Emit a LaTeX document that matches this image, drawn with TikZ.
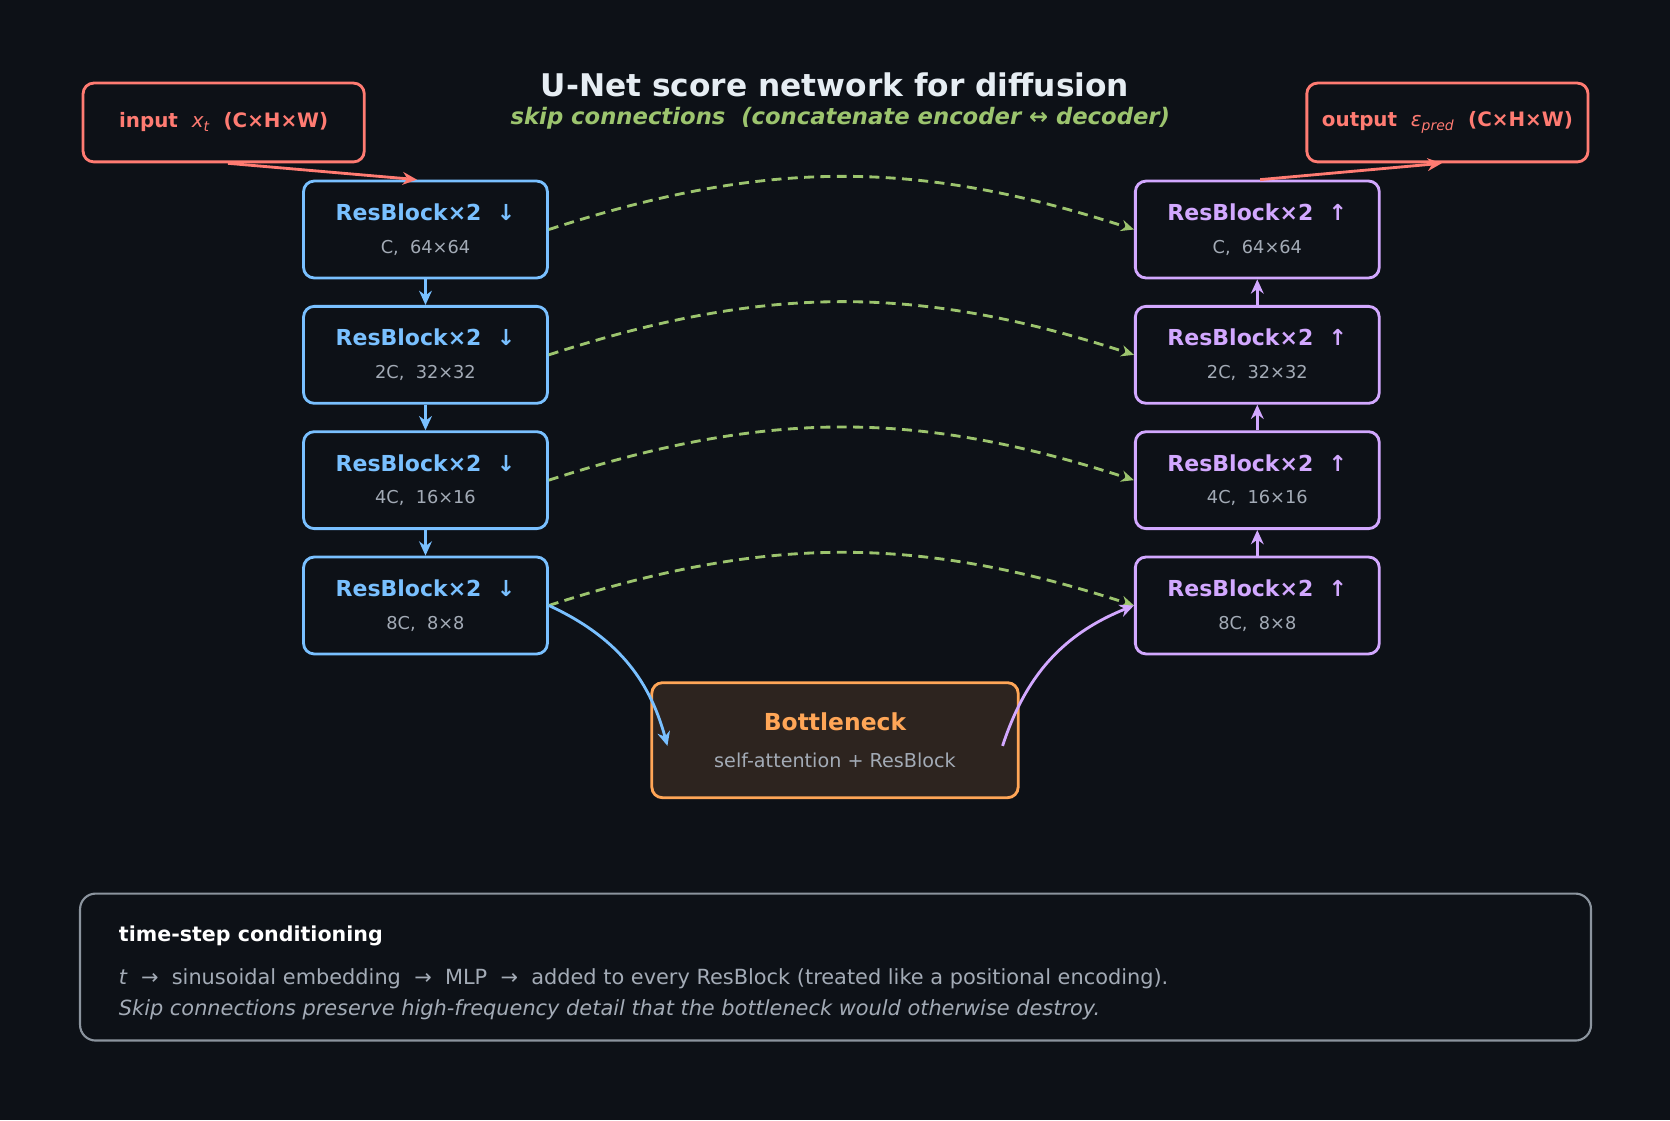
\documentclass[tikz,border=0pt]{standalone}
\usepackage{fontspec}
\setmainfont{DejaVu Sans}
\usetikzlibrary{positioning, arrows.meta}
\definecolor{bgc}{HTML}{0D1117}
\definecolor{encc}{HTML}{79C0FF}
\definecolor{decc}{HTML}{D2A8FF}
\definecolor{skipc}{HTML}{9CC46E}
\definecolor{ioc}{HTML}{FF7B72}
\definecolor{botc}{HTML}{FFA657}
\definecolor{botfill}{HTML}{2D241F}
\definecolor{subc}{HTML}{A3ABB6}
\definecolor{titc}{HTML}{E6EDF3}
\definecolor{framec}{HTML}{8B949E}
\tikzset{
	blk/.style={draw, line width=2pt, rounded corners=7.5pt, minimum width=171.75pt, minimum height=68.25pt, fill=bgc},
	enc/.style={blk, draw=encc},
	dec/.style={blk, draw=decc},
	io/.style={draw=ioc, line width=2pt, rounded corners=7.5pt, minimum width=198pt, minimum height=55.5pt, text=ioc, font=\bfseries\fontsize{14}{16}\selectfont},
	flow/.style={line width=2pt, -{Stealth[length=10pt,width=9pt]}},
	skip/.style={skipc, line width=2pt, dash pattern=on 7pt off 4.5pt, -{Stealth[length=9pt,width=8pt]}, bend left=18},
}
\newcommand{\blktext}[3]{\textcolor{#1}{\bfseries\fontsize{15.5}{18}\selectfont ResBlock×2\ \ #2}\\[11pt]\textcolor{subc}{\fontsize{12.5}{14}\selectfont #3}}
\begin{document}
\begin{tikzpicture}[x=0.75pt, y=-0.75pt]
	\fill[bgc] (0,0) rectangle (1568,1052);
	\useasboundingbox (0,0) rectangle (1568,1052);

	% title
	\node[text=titc, font=\bfseries\fontsize{22}{26}\selectfont] (title) at (784,80) {U-Net score network for diffusion};
	\node[text=skipc, font=\bfseries\itshape\fontsize{16}{19}\selectfont] (subtitle) at (789,111) {skip connections\ \ (concatenate encoder ↔ decoder)};

	% input / output
	\node[io] (input) at (210,115) {input\ \ \textmd{\textit{x\textsubscript{t}}}\ \ (C×H×W)};
	\node[io] (output) at (1359,115) {output\ \ \textmd{\textit{ε\textsubscript{pred}}}\ \ (C×H×W)};

	% encoder
	\node[enc, align=center] (enc1) at (399.5,215.5) {\blktext{encc}{↓}{C,\ \ 64×64}};
	\node[enc, align=center, below=18pt of enc1] (enc2) {\blktext{encc}{↓}{2C,\ \ 32×32}};
	\node[enc, align=center, below=18pt of enc2] (enc3) {\blktext{encc}{↓}{4C,\ \ 16×16}};
	\node[enc, align=center, below=18pt of enc3] (enc4) {\blktext{encc}{↓}{8C,\ \ 8×8}};

	% decoder
	\node[dec, align=center] (dec1) at (1180.5,215.5) {\blktext{decc}{↑}{C,\ \ 64×64}};
	\node[dec, align=center, below=18pt of dec1] (dec2) {\blktext{decc}{↑}{2C,\ \ 32×32}};
	\node[dec, align=center, below=18pt of dec2] (dec3) {\blktext{decc}{↑}{4C,\ \ 16×16}};
	\node[dec, align=center, below=18pt of dec3] (dec4) {\blktext{decc}{↑}{8C,\ \ 8×8}};

	% bottleneck
	\node[draw=botc, fill=botfill, line width=2pt, rounded corners=7.5pt, minimum width=258pt, minimum height=81pt, align=center] (bottle) at (784,695)
		{\textcolor{botc}{\bfseries\fontsize{16.5}{19}\selectfont Bottleneck}\\[14pt]\textcolor{subc}{\fontsize{13.5}{16}\selectfont self-attention + ResBlock}};

	% connectors
	\draw[flow, ioc] ([xshift=3pt]input.south) -- ([xshift=-6pt]enc1.north);
	\draw[flow, ioc] ([xshift=2pt]dec1.north) -- ([xshift=-4pt]output.south);
	\foreach \a/\b in {enc1/enc2, enc2/enc3, enc3/enc4}
		\draw[flow, encc] (\a.south) -- (\b.north);
	\foreach \a/\b in {dec4/dec3, dec3/dec2, dec2/dec1}
		\draw[flow, decc] (\a.north) -- (\b.south);
	\foreach \i in {1,...,4}
		\draw[skip] (enc\i.east) to (dec\i.west);
	\draw[flow, encc] (enc4.east) to[bend left=25] ([xshift=12pt,yshift=-4pt]bottle.west |- bottle.center);
	\draw[flow, decc] ([xshift=-12pt,yshift=-4pt]bottle.east |- bottle.center) to[bend left=25] (dec4.west);

	% time-step box
	\node[draw=framec, line width=1.5pt, rounded corners=11pt, minimum width=1064pt, minimum height=103.5pt] (tbox) at (784.5,908) {};
	\node[anchor=base west, text=white, font=\bfseries\fontsize{14.5}{17}\selectfont] (thead) at (107,884) {time-step conditioning};
	\node[anchor=base west, text=subc, font=\fontsize{14.7}{17}\selectfont] (tline1) at (107,924) {\textit{t}\ \ →\ \ sinusoidal embedding\ \ →\ \ MLP\ \ →\ \ added to every ResBlock (treated like a positional encoding).};
	\node[anchor=base west, text=subc, font=\itshape\fontsize{14.7}{17}\selectfont] (tline2) at (107,953) {Skip connections preserve high-frequency detail that the bottleneck would otherwise destroy.};
\end{tikzpicture}
\end{document}
